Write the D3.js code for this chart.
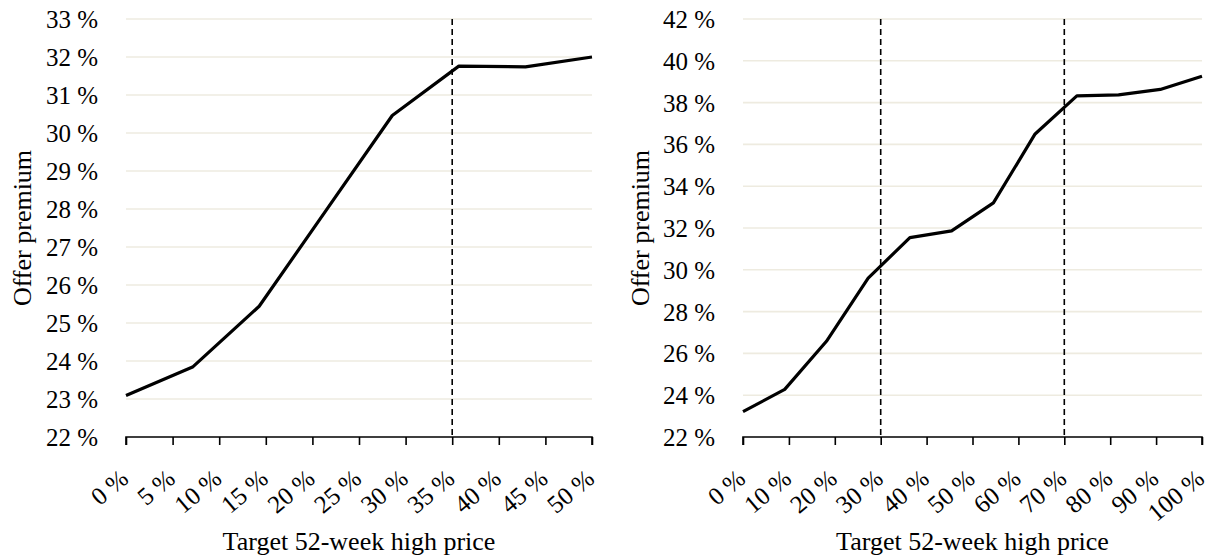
<!DOCTYPE html>
<html>
<head>
<meta charset="utf-8">
<script src="https://cdn.jsdelivr.net/npm/d3@7"></script>
<style>
  html, body { margin: 0; padding: 0; background: #fff; }
</style>
</head>
<body>
<svg id="chart" width="1214" height="558"></svg>
<script>
// ---- Data ----
const leftX = [0, 7.14, 14.29, 21.43, 28.57, 35.71, 42.86, 50];
const leftY = [23.09, 23.84, 25.44, 27.95, 30.46, 31.76, 31.74, 32.0];
const leftXTicks = [0, 5, 10, 15, 20, 25, 30, 35, 40, 45, 50];
const leftYTicks = [22, 23, 24, 25, 26, 27, 28, 29, 30, 31, 32, 33];
const leftDashed = [35];

const rightX = [0, 9.09, 18.18, 27.27, 36.36, 45.45, 54.55, 63.64, 72.73, 81.82, 90.91, 100];
const rightY = [23.21, 24.28, 26.58, 29.6, 31.54, 31.86, 33.2, 36.5, 38.32, 38.37, 38.63, 39.26];
const rightXTicks = [0, 10, 20, 30, 40, 50, 60, 70, 80, 90, 100];
const rightYTicks = [22, 24, 26, 28, 30, 32, 34, 36, 38, 40, 42];
const rightDashed = [30, 70];

const xTitle = "Target 52-week high price";
const yTitle = "Offer premium";

// ---- Drawing ----
const FONT = "'Liberation Serif', 'Times New Roman', Times, serif";
const svg = d3.select("#chart");
const fmt = d => d + " %";

function drawPanel(cfg) {
  const x = d3.scaleLinear().domain(cfg.xDomain).range([cfg.left, cfg.right]);
  const y = d3.scaleLinear().domain(cfg.yDomain).range([cfg.bottom, cfg.top]);
  const g = svg.append("g").attr("font-family", FONT);

  // gridlines
  g.selectAll("line.grid").data(cfg.yTicks.slice(1)).enter().append("line")
    .attr("x1", cfg.left).attr("x2", cfg.right)
    .attr("y1", d => y(d)).attr("y2", d => y(d))
    .attr("stroke", "#EEEBE0").attr("stroke-width", 1.6);

  // y tick labels
  g.selectAll("text.ylab").data(cfg.yTicks).enter().append("text")
    .attr("font-family", FONT)
    .attr("x", cfg.left - 28).attr("y", d => y(d) + 9)
    .attr("text-anchor", "end").attr("font-size", 25).attr("fill", "#000")
    .text(fmt);

  // x axis
  const xAxis = d3.axisBottom(x).tickValues(cfg.xTicks).tickSize(8).tickFormat("");
  const ax = g.append("g").attr("transform", `translate(0,${cfg.bottom})`).call(xAxis);
  ax.select(".domain").attr("stroke", "#000").attr("stroke-width", 1.6)
    .attr("d", `M${cfg.left},8V0H${cfg.right}V8`);
  ax.selectAll(".tick line").attr("stroke", "#000").attr("stroke-width", 1.6);

  // x tick labels rotated
  g.selectAll("text.xlab").data(cfg.xTicks).enter().append("text")
    .attr("font-family", FONT)
    .attr("text-anchor", "end").attr("font-size", 25).attr("fill", "#000")
    .attr("transform", d => `translate(${x(d) + 4},${cfg.bottom + 44}) rotate(-40)`)
    .text(fmt);

  // dashed lines
  g.selectAll("line.dash").data(cfg.dashed).enter().append("line")
    .attr("x1", d => x(d)).attr("x2", d => x(d))
    .attr("y1", cfg.top).attr("y2", cfg.bottom)
    .attr("stroke", "#000").attr("stroke-width", 1.6)
    .attr("stroke-dasharray", "6,4");

  // data line
  const pts = cfg.xs.map((v, i) => [v, cfg.ys[i]]);
  g.append("path").datum(pts)
    .attr("fill", "none").attr("stroke", "#000").attr("stroke-width", 3.2)
    .attr("stroke-linejoin", "round")
    .attr("d", d3.line().x(d => x(d[0])).y(d => y(d[1])));

  // titles
  g.append("text").attr("font-family", FONT)
    .attr("x", (cfg.left + cfg.right) / 2).attr("y", 550)
    .attr("text-anchor", "middle").attr("font-size", 26).attr("fill", "#000").text(xTitle);
  g.append("text").attr("font-family", FONT)
    .attr("transform", `translate(${cfg.yTitleX},${(cfg.top + cfg.bottom) / 2}) rotate(-90)`)
    .attr("text-anchor", "middle").attr("font-size", 26).attr("fill", "#000").text(yTitle);
}

drawPanel({
  left: 126, right: 592, top: 19, bottom: 437,
  xDomain: [0, 50], yDomain: [22, 33],
  xTicks: leftXTicks, yTicks: leftYTicks, dashed: leftDashed,
  xs: leftX, ys: leftY, yTitleX: 31
});
drawPanel({
  left: 743, right: 1202, top: 19, bottom: 437,
  xDomain: [0, 100], yDomain: [22, 42],
  xTicks: rightXTicks, yTicks: rightYTicks, dashed: rightDashed,
  xs: rightX, ys: rightY, yTitleX: 649
});
</script>
</body>
</html>
